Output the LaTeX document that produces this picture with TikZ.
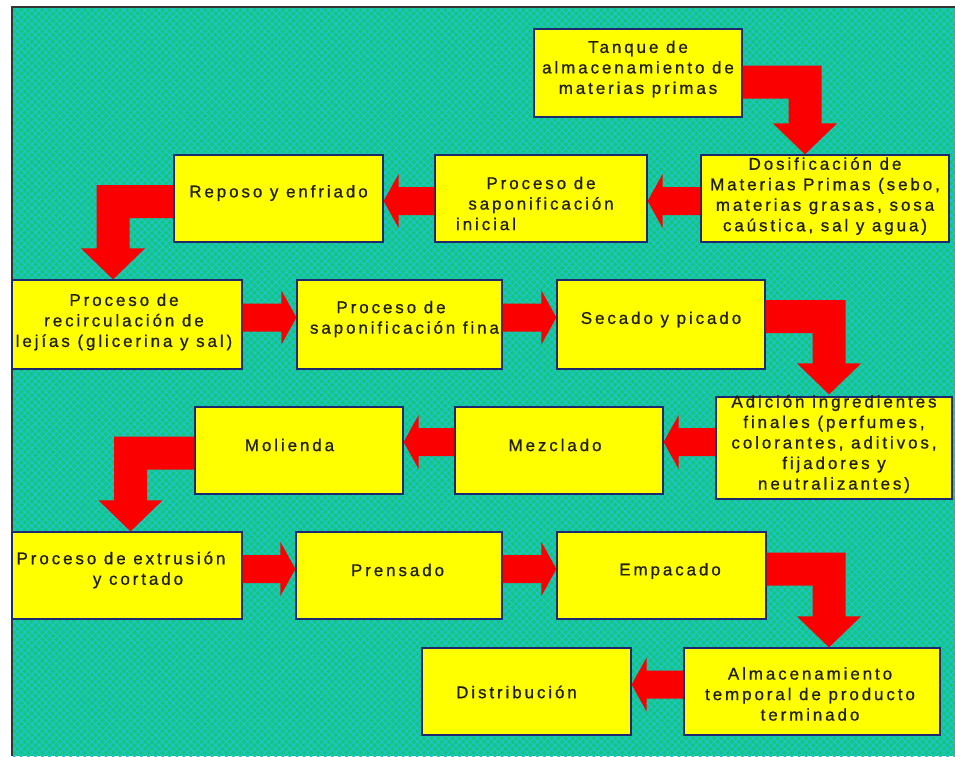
\documentclass[tikz,border=0pt]{standalone}
\usepackage{fontspec}
\setmainfont{Liberation Sans}[LetterSpace=17,FakeBold=0.8]
\usetikzlibrary{calc,patterns.meta}

\definecolor{bggreen}{RGB}{20,198,125}
\definecolor{bgcyan}{RGB}{30,196,206}
\definecolor{boxyellow}{RGB}{255,255,0}
\definecolor{boxline}{RGB}{30,40,110}
\definecolor{flowred}{RGB}{250,0,0}
\definecolor{inktext}{RGB}{30,30,8}

% straight block arrow: tail point (only its x is used) and tip point
\newcommand\flowarrow[2]{%
  \fill[flowred] let \p1=(#1), \p2=(#2), \n1={ifthenelse(\x2>\x1,1,-1)} in
    (\x1,{\y2+14pt}) -- ({\x2-(\n1)*15pt},{\y2+14pt}) -- ({\x2-(\n1)*15pt},{\y2+27pt})
    -- (\x2,\y2) -- ({\x2-(\n1)*15pt},{\y2-27pt}) -- ({\x2-(\n1)*15pt},{\y2-14pt})
    -- (\x1,{\y2-14pt}) -- cycle;}

% bent block arrow: leaves a box sideways, turns down into the box below
\newcommand\elbowflow[2]{%
  \fill[flowred] let \p1=(#1), \p2=(#2), \n1={ifthenelse(\x2>\x1,1,-1)} in
    (\x1,{\y1+16.5pt}) -- ({\x2+(\n1)*16.5pt},{\y1+16.5pt})
    -- ({\x2+(\n1)*16.5pt},{\y2+31pt}) -- ({\x2+(\n1)*32pt},{\y2+31pt})
    -- (\x2,\y2) -- ({\x2-(\n1)*32pt},{\y2+31pt}) -- ({\x2-(\n1)*16.5pt},{\y2+31pt})
    -- ({\x2-(\n1)*16.5pt},{\y1-16.5pt}) -- (\x1,{\y1-16.5pt}) -- cycle;}

\begin{document}
\begin{tikzpicture}[x=1pt,y=-1pt,
  procbox/.style={draw=boxline, line width=1.2pt, fill=boxyellow, inner sep=0pt},
  proctext/.style={text=inktext, align=center, inner sep=0pt,
                   font=\fontsize{17}{20.5}\selectfont}]
\useasboundingbox (0,0) rectangle (955,756);
\fill[white] (0,0) rectangle (955,756);

% patterned backdrop
\fill[bggreen] (12,7) rectangle (955,756);
\fill[pattern={Lines[angle=45,distance=5pt,line width=1.1pt]}, pattern color=bgcyan]
  (12,7) rectangle (955,756);
\fill[pattern={Lines[angle=-45,distance=5pt,line width=1.1pt]}, pattern color=bgcyan]
  (12,7) rectangle (955,756);
\draw[line width=1.5pt, black!80] (12,756) -- (12,7) -- (955,7);

% process boxes
\node[procbox, minimum width=208pt, minimum height=88pt] (tanque)    at (638,73)      {};
\node[procbox, minimum width=248pt, minimum height=87pt] (dosif)     at (825,198.5)   {};
\node[procbox, minimum width=212pt, minimum height=87pt] (sapini)    at (541,198.5)   {};
\node[procbox, minimum width=209pt, minimum height=87pt] (reposo)    at (278.5,198.5) {};
\node[procbox, minimum width=230pt, minimum height=89pt] (recirc)    at (127,324.5)   {};
\node[procbox, minimum width=205pt, minimum height=89pt] (sapfina)   at (399.5,324.5) {};
\node[procbox, minimum width=208pt, minimum height=89pt] (secado)    at (661,324.5)   {};
\node[procbox, minimum width=236pt, minimum height=102pt] (adicion)  at (834,448)     {};
\node[procbox, minimum width=208pt, minimum height=87pt] (mezclado)  at (559,450.5)   {};
\node[procbox, minimum width=208pt, minimum height=87pt] (molienda)  at (299,450.5)   {};
\node[procbox, minimum width=230pt, minimum height=87pt] (extrusion) at (127,575.5)   {};
\node[procbox, minimum width=206pt, minimum height=87pt] (prensado)  at (399,575.5)   {};
\node[procbox, minimum width=209pt, minimum height=87pt] (empacado)  at (661.5,575.5) {};
\node[procbox, minimum width=209pt, minimum height=87pt] (distrib)   at (526.5,691.5) {};
\node[procbox, minimum width=256pt, minimum height=87pt] (almacen)   at (812,691.5)   {};

% flow arrows
\elbowflow{$(tanque.east)+(0,9)$}{$(dosif.north)+(-20,0)$}
\flowarrow{$(dosif.west)+(0,2.5)$}{$(sapini.east)+(0,2.5)$}
\flowarrow{$(sapini.west)+(0,2.5)$}{$(reposo.east)+(0,2.5)$}
\elbowflow{$(reposo.west)+(0,3)$}{$(recirc.north)+(-14,0)$}
\flowarrow{$(recirc.east)+(0,-7)$}{$(sapfina.west)+(0,-7)$}
\flowarrow{$(sapfina.east)+(0,-7)$}{$(secado.west)+(0,-7)$}
\elbowflow{$(secado.east)+(0,-8)$}{$(adicion.north)+(-5,-2)$}
\flowarrow{$(adicion.west)$}{$(mezclado.east)+(0,-8.5)$}
\flowarrow{$(mezclado.west)+(0,-8.5)$}{$(molienda.east)+(0,-8.5)$}
\elbowflow{$(molienda.west)+(0,2.5)$}{$(extrusion.north)+(3.5,0)$}
\flowarrow{$(extrusion.east)+(0,-6.5)$}{$(prensado.west)+(0,-6.5)$}
\flowarrow{$(prensado.east)+(0,-6.5)$}{$(empacado.west)+(0,-6.5)$}
\elbowflow{$(empacado.east)+(0,-6.5)$}{$(almacen.north)+(17,0)$}
\flowarrow{$(almacen.west)+(0,-7)$}{$(distrib.east)+(0,-7)$}

% box texts
\node[proctext] (tanque-t) at ($(tanque.center)+(0,-4)$)
  {Tanque de\\almacenamiento de\\materias primas};
\node[proctext] (dosif-t) at ($(dosif.center)+(0,-2.5)$)
  {Dosificación de\\Materias Primas (sebo,\\materias grasas, sosa\\caústica, sal y agua)};
\node[proctext] (sapini-t) at ($(sapini.center)+(0,5)$)
  {Proceso de\\saponificación\\inicial\hspace*{110pt}};
\node[proctext] (reposo-t) at ($(reposo.center)+(0,-5.5)$) {Reposo y enfriado};
\node[proctext] (recirc-t) at ($(recirc.center)+(-3,-2.5)$)
  {Proceso de\\recirculación de\\lejías (glicerina y sal)};
\node[proctext] (sapfina-t) at ($(sapfina.center)+(5,-5.5)$)
  {Proceso de\hspace*{27pt}\\saponificación fina};
\node[proctext] (secado-t) at ($(secado.center)+(0,-5)$) {Secado y picado};
\node[proctext] (adicion-t) at ($(adicion.center)+(0,-4)$)
  {Adición ingredientes\\finales (perfumes,\\colorantes, aditivos,\\fijadores y\\neutralizantes)};
\node[proctext] (mezclado-t) at ($(mezclado.center)+(-4,-5.5)$) {Mezclado};
\node[proctext] (molienda-t) at ($(molienda.center)+(-9.5,-5.5)$) {Molienda};
\node[proctext] (extrusion-t) at ($(extrusion.center)+(-6,-5.5)$)
  {Proceso de extrusión\\\hspace*{34pt}y cortado};
\node[proctext] (prensado-t) at ($(prensado.center)+(-1.5,-5.5)$) {Prensado};
\node[proctext] (empacado-t) at ($(empacado.center)+(8.5,-4.5)$) {Empacado};
\node[proctext] (distrib-t) at ($(distrib.center)+(-10,0.5)$) {Distribución};
\node[proctext] (almacen-t) at ($(almacen.center)+(-2,2.5)$)
  {Almacenamiento\\temporal de producto\\terminado};
\end{tikzpicture}
\end{document}
